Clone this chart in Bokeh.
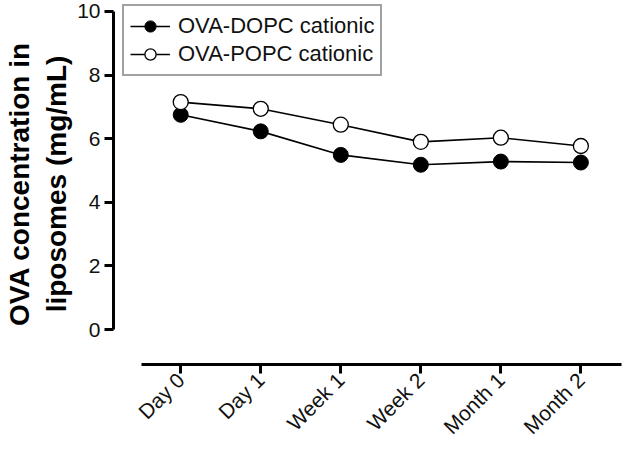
import math
from bokeh.plotting import figure
from bokeh.models import FixedTicker, Range1d, Legend, LegendItem
from bokeh.embed import file_html
from bokeh.resources import INLINE

categories = ["Day 0", "Day 1", "Week 1", "Week 2", "Month 1", "Month 2"]
dopc = [6.75, 6.23, 5.49, 5.18, 5.28, 5.25]
popc = [7.15, 6.94, 6.44, 5.90, 6.03, 5.77]
y_ticks = [0, 2, 4, 6, 8, 10]

xs = list(range(len(categories)))
FONT = "Liberation Sans"
FRAME_H = 361

p = figure(frame_width=521, frame_height=FRAME_H, min_border_left=105, min_border_right=0,
           min_border_top=3, min_border_bottom=0,
           x_range=Range1d(-0.84, 5.67), y_range=Range1d(-1.1, 10.25),
           output_backend="svg", toolbar_location=None)
p.outline_line_color = None
p.grid.visible = False
p.background_fill_color = "white"
p.border_fill_color = "white"

for ax in (p.xaxis[0], p.yaxis[0]):
    ax.axis_line_width = 3
    ax.axis_line_color = "black"
    ax.major_tick_line_width = 3
    ax.major_tick_line_color = "black"
    ax.major_tick_out = 9
    ax.major_tick_in = 0
    ax.minor_tick_line_color = None
    ax.major_label_text_font = FONT
    ax.major_label_text_color = "#111111"

p.yaxis[0].major_label_text_font_size = "21px"
p.yaxis[0].ticker = FixedTicker(ticks=y_ticks)
p.yaxis[0].bounds = (0, 10)
p.yaxis[0].major_label_standoff = 4
p.yaxis[0].axis_label = "OVA concentration in\nliposomes (mg/mL)"
p.yaxis[0].axis_label_text_font = FONT
p.yaxis[0].axis_label_text_font_style = "bold"
p.yaxis[0].axis_label_text_font_size = "28px"
p.yaxis[0].axis_label_text_color = "black"
p.yaxis[0].axis_label_standoff = 2

p.xaxis[0].major_label_text_font_size = "21px"
p.xaxis[0].ticker = FixedTicker(ticks=xs)
p.xaxis[0].bounds = (-0.49, 5.51)
p.xaxis[0].major_label_overrides = {i: c for i, c in enumerate(categories)}
p.xaxis[0].major_label_orientation = math.pi / 4
p.xaxis[0].major_label_standoff = 3

l1 = p.line(xs, dopc, line_color="black", line_width=1.6)
s1 = p.scatter(xs, dopc, size=15, marker="circle", fill_color="black", line_color="black")
l2 = p.line(xs, popc, line_color="black", line_width=1.6)
s2 = p.scatter(xs, popc, size=15, marker="circle", fill_color="white", line_color="black", line_width=1.3)

legend = Legend(items=[LegendItem(label="OVA-DOPC cationic", renderers=[l1, s1]),
                       LegendItem(label="OVA-POPC cationic", renderers=[l2, s2])],
                location=(9, FRAME_H - 73))
legend.label_text_font = FONT
legend.label_text_font_size = "22px"
legend.label_text_color = "#111111"
legend.glyph_width = 40
legend.glyph_height = 28
legend.label_height = 22
legend.spacing = 0
legend.padding = 6
legend.label_standoff = 8
legend.border_line_color = "#444444"
legend.border_line_width = 2
legend.background_fill_alpha = 1
legend.margin = 0
p.add_layout(legend)

open("out.html", "w").write(file_html(p, INLINE))
